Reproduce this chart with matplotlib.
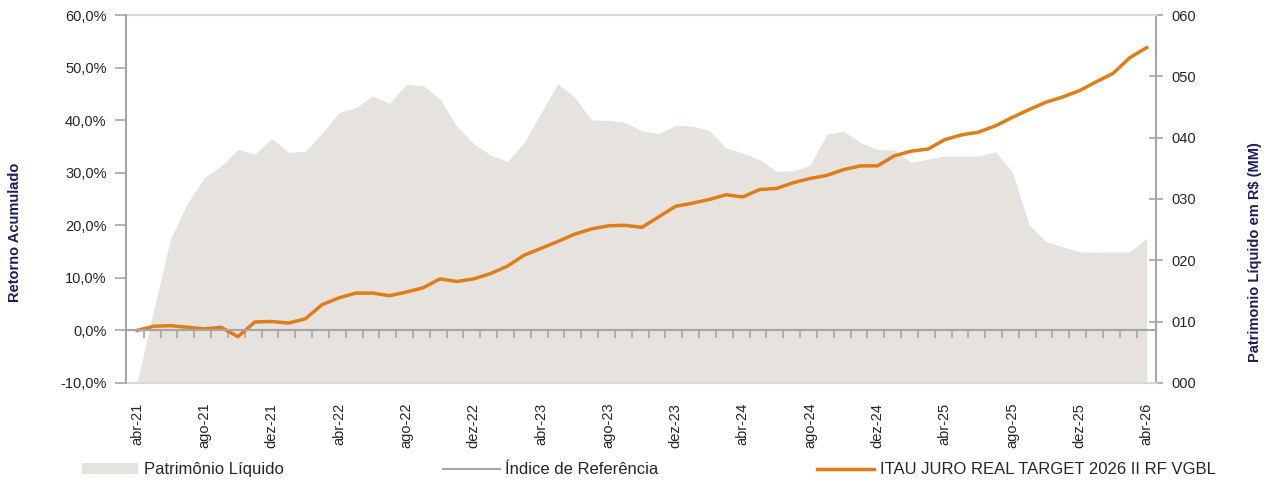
import matplotlib.pyplot as plt
from matplotlib.ticker import FixedLocator, FuncFormatter

plt.rcParams["font.family"] = ["Liberation Sans", "DejaVu Sans"]

months = [
    "abr-21", "mai-21", "jun-21", "jul-21", "ago-21", "set-21", "out-21", "nov-21", "dez-21",
    "jan-22", "fev-22", "mar-22", "abr-22", "mai-22", "jun-22", "jul-22", "ago-22", "set-22",
    "out-22", "nov-22", "dez-22", "jan-23", "fev-23", "mar-23", "abr-23", "mai-23", "jun-23",
    "jul-23", "ago-23", "set-23", "out-23", "nov-23", "dez-23", "jan-24", "fev-24", "mar-24",
    "abr-24", "mai-24", "jun-24", "jul-24", "ago-24", "set-24", "out-24", "nov-24", "dez-24",
    "jan-25", "fev-25", "mar-25", "abr-25", "mai-25", "jun-25", "jul-25", "ago-25", "set-25",
    "out-25", "nov-25", "dez-25", "jan-26", "fev-26", "mar-26", "abr-26",
]

# retorno acumulado do fundo (%)
fundo = [
    0.0, 0.8, 0.9, 0.6, 0.3, 0.6, -1.2, 1.6, 1.7,
    1.4, 2.2, 4.9, 6.2, 7.1, 7.1, 6.6, 7.3, 8.1,
    9.8, 9.3, 9.8, 10.8, 12.2, 14.3, 15.6, 16.9, 18.3,
    19.3, 19.9, 20.0, 19.6, 21.6, 23.6, 24.2, 24.9, 25.8,
    25.4, 26.8, 27.0, 28.1, 28.9, 29.5, 30.6, 31.3, 31.3,
    33.2, 34.1, 34.5, 36.3, 37.2, 37.7, 38.9, 40.5, 42.0,
    43.4, 44.4, 45.6, 47.3, 48.9, 51.9, 53.8,
]

# índice de referência (%)
indice = [0.0] * len(months)

# patrimônio líquido (R$ MM)
pl = [
    0.0, 11.9, 23.6, 29.3, 33.5, 35.4, 38.1, 37.3, 39.9,
    37.6, 37.8, 40.7, 44.1, 44.9, 46.8, 45.6, 48.7, 48.5,
    46.3, 41.9, 39.0, 37.2, 36.1, 39.2, 44.0, 48.8, 46.6,
    42.9, 42.8, 42.5, 41.1, 40.7, 42.0, 41.9, 41.2, 38.3,
    37.5, 36.4, 34.5, 34.6, 35.5, 40.6, 41.0, 39.2, 38.1,
    38.0, 36.0, 36.5, 37.0, 37.0, 37.0, 37.7, 34.5, 25.8,
    23.1, 22.2, 21.4, 21.3, 21.4, 21.4, 23.6,
]

ORANGE = "#E07D17"
AREA = "#E6E3DF"
AXIS = "#A6A6A6"
LIGHT = "#D9D9D9"
NAVY = "#1A1F5C"
TXT = "#262626"


def main():
    fig = plt.figure(figsize=(12.72, 4.84), dpi=100)
    ax = fig.add_axes([0.0991, 0.2087, 0.8097, 0.7603])
    ax2 = ax.twinx()

    x = list(range(len(months)))

    # patrimônio no eixo direito
    ax2.fill_between(x, 0, pl, color=AREA, lw=0, label="Patrimônio Líquido")
    ax2.set_ylim(0, 60)
    ax2.set_yticks(range(0, 61, 10))
    ax2.yaxis.set_major_formatter(FuncFormatter(lambda v, p: f"{int(v):03d}"))
    ax2.tick_params(axis="y", direction="inout", length=10, width=1.2, color=AXIS,
                    labelsize=10.5, labelcolor=TXT, pad=6)
    ax2.spines["left"].set_visible(False)
    ax2.spines["right"].set_color(AXIS)
    ax2.spines["right"].set_linewidth(1.5)
    ax2.spines["top"].set_color(LIGHT)
    ax2.spines["top"].set_linewidth(1.5)
    ax2.spines["bottom"].set_color(LIGHT)
    ax2.spines["bottom"].set_linewidth(1.5)

    # retornos no eixo esquerdo
    ax.set_zorder(ax2.get_zorder() + 1)
    ax.patch.set_visible(False)
    ax.plot(x, indice, color=AXIS, lw=1.5, label="Índice de Referência")
    ax.plot(x, fundo, color=ORANGE, lw=2.5, label="ITAU JURO REAL TARGET 2026 II RF VGBL")
    ax.set_ylim(-10, 60)
    ax.set_xlim(-0.65, 60.55)
    ax.set_yticks(range(-10, 61, 10))
    ax.yaxis.set_major_formatter(FuncFormatter(lambda v, p: f"{v:.1f}%".replace(".", ",")))
    ax.tick_params(axis="y", direction="out", length=8, width=1.2, color=AXIS,
                   labelsize=10.5, labelcolor=TXT, pad=6)

    for s in ["top", "right"]:
        ax.spines[s].set_visible(False)
    ax.spines["left"].set_color(AXIS)
    ax.spines["left"].set_linewidth(1.5)
    ax.spines["bottom"].set_position(("data", 0))
    ax.spines["bottom"].set_color(AXIS)
    ax.spines["bottom"].set_linewidth(1.5)

    ax.set_xticks(x[::4])
    ax.set_xticklabels(months[::4], rotation=90)
    ax.xaxis.set_minor_locator(FixedLocator([i + 0.4 for i in x[:-1]]))
    ax.tick_params(axis="x", which="major", length=0, labelsize=10.5,
                   labelcolor=TXT, pad=52)
    ax.tick_params(axis="x", which="minor", direction="out", length=6,
                   width=1.2, color=AXIS)

    fig.text(0.012, 0.52, "Retorno Acumulado", rotation=90, ha="center", va="center",
             fontsize=10.5, fontweight="bold", color=NAVY)
    fig.text(0.987, 0.48, "Patrimonio Líquido em R$ (MM)", rotation=90, ha="center",
             va="center", fontsize=10.5, fontweight="bold", color=NAVY)

    h1, l1 = ax2.get_legend_handles_labels()
    h2, l2 = ax.get_legend_handles_labels()
    fig.legend(h1 + h2, l1 + l2, loc="lower left", ncol=3, mode="expand",
               bbox_to_anchor=(0.059, 0.0, 0.902, 0.042), frameon=False,
               handlelength=3.4, handletextpad=0.35, borderaxespad=0.0,
               fontsize=12, labelcolor=TXT)

    fig.savefig("out.png", dpi=100)


if __name__ == "__main__":
    main()
